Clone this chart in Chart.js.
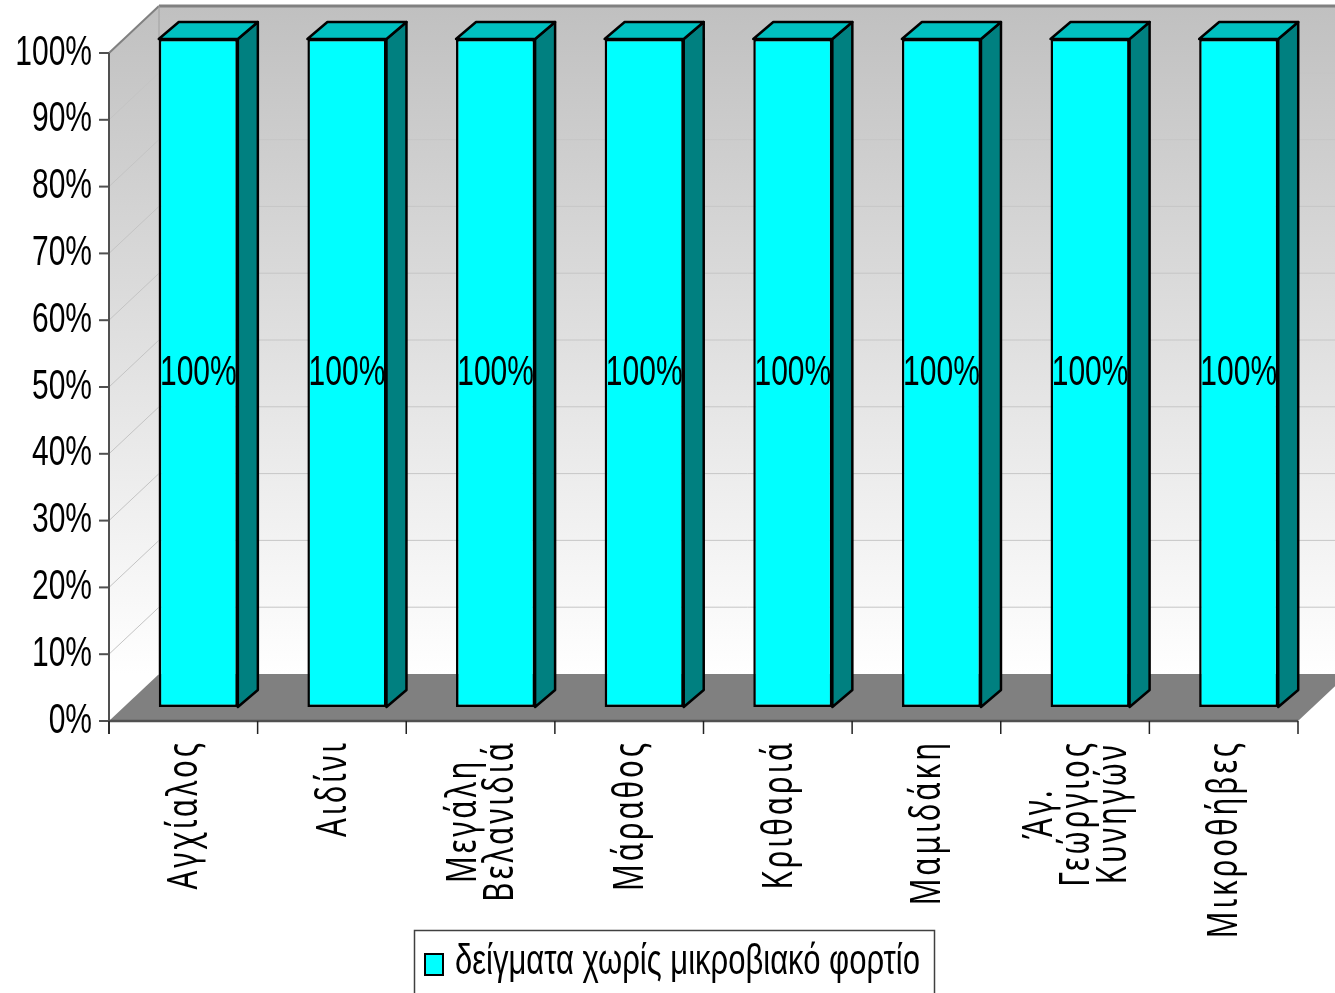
<!DOCTYPE html>
<html>
<head>
<meta charset="utf-8">
<script src="https://cdn.jsdelivr.net/npm/chart.js@4.4.1/dist/chart.umd.min.js"></script>
<style>
  html, body { margin: 0; padding: 0; background: #fff; }
  #wrap { width: 1335px; height: 993px; position: relative; }
</style>
</head>
<body>
<div id="wrap"><canvas id="chart"></canvas></div>
<script>
const categories = [
  ['Αγχίαλος'],
  ['Αιδίνι'],
  ['Μεγάλη', 'Βελανιδιά'],
  ['Μάραθος'],
  ['Κριθαριά'],
  ['Μαμιδάκη'],
  ['Άγ.', 'Γεώργιος', 'Κυνηγών'],
  ['Μικροθήβες'],
];
const seriesLabel = 'δείγματα χωρίς μικροβιακό φορτίο';
const seriesValues = [100, 100, 100, 100, 100, 100, 100, 100];
const yTickValues = [0, 10, 20, 30, 40, 50, 60, 70, 80, 90, 100];

// 3d look: whole depth of the box, where the bars sit in it and how deep they are
const DEPTH = { dx: 50, dy: -47 };
const BAR_SHIFT = { dx: 15, dy: -14 };
const BAR_DEPTH = { dx: 20, dy: -17 };

const numFont = '30px "Liberation Sans", Arial, sans-serif';
const legendFont = '31px "Liberation Sans", Arial, sans-serif';
const labelFont = '41px "Noto Sans", sans-serif';

function tallText(ctx, text, x, y, align, sy) {
  ctx.save();
  ctx.translate(x, y);
  ctx.scale(1, sy);
  ctx.textAlign = align;
  ctx.textBaseline = 'middle';
  ctx.fillText(text, 0, 0);
  ctx.restore();
}

function poly(ctx, pts, fill, stroke, lw) {
  ctx.beginPath();
  ctx.moveTo(pts[0][0], pts[0][1]);
  for (let i = 1; i < pts.length; i++) ctx.lineTo(pts[i][0], pts[i][1]);
  ctx.closePath();
  if (fill) {
    ctx.fillStyle = fill;
    ctx.fill();
  }
  if (stroke) {
    ctx.strokeStyle = stroke;
    ctx.lineWidth = lw || 1;
    ctx.stroke();
  }
}

function line(ctx, x1, y1, x2, y2, color, lw) {
  ctx.beginPath();
  ctx.moveTo(x1, y1);
  ctx.lineTo(x2, y2);
  ctx.strokeStyle = color;
  ctx.lineWidth = lw;
  ctx.stroke();
}

const scenePlugin = {
  id: 'scene',
  beforeDatasetsDraw(chart) {
    const { ctx, chartArea: area, scales } = chart;
    const y = scales.y;
    const x = scales.x;
    const w = chart.width;
    const top = y.getPixelForValue(yTickValues[yTickValues.length - 1]);
    const bottom = y.getPixelForValue(0);
    const bx = area.left + DEPTH.dx;
    const by = bottom + DEPTH.dy;
    const ty = top + DEPTH.dy;

    ctx.save();
    const grad = ctx.createLinearGradient(0, ty, 0, by);
    grad.addColorStop(0, '#c0c0c0');
    grad.addColorStop(1, '#ffffff');

    // side wall and back wall
    poly(ctx, [[area.left, top], [bx, ty], [bx, by], [area.left, bottom]], grad);
    poly(ctx, [[bx, ty], [w + 60, ty], [w + 60, by], [bx, by]], grad);

    yTickValues.forEach((v) => {
      if (v === 0) return;
      const py = y.getPixelForValue(v);
      line(ctx, area.left, py, bx, py + DEPTH.dy, '#c4c4c4', 1);
      line(ctx, bx, py + DEPTH.dy, w + 60, py + DEPTH.dy, '#c6c6c6', 1);
    });

    // floor
    poly(ctx, [[area.left, bottom], [bx, by], [area.right + DEPTH.dx, by], [area.right, bottom]], '#808080');

    // wall edges
    line(ctx, area.left, top, bx, ty, '#808080', 2);
    line(ctx, bx, ty, w + 60, ty, '#808080', 3);
    line(ctx, bx, ty, bx, by, '#a0a0a0', 1);

    // axes
    line(ctx, area.left, bottom, area.right, bottom, '#505050', 2.5);
    line(ctx, area.left, top, area.left, bottom + 13, '#505050', 2);
    yTickValues.forEach((v) => {
      const py = y.getPixelForValue(v);
      line(ctx, area.left - 10, py, area.left, py, '#505050', 2);
    });
    const half = (x.getPixelForValue(1) - x.getPixelForValue(0)) / 2;
    for (let i = 0; i <= categories.length; i++) {
      const px = i < categories.length ? x.getPixelForValue(i) - half : x.getPixelForValue(i - 1) + half;
      line(ctx, px, bottom, px, bottom + 13, '#222', 1.5);
    }
    ctx.restore();

    // front faces are drawn by chart.js, moved back into the box
    ctx.save();
    ctx.translate(BAR_SHIFT.dx, BAR_SHIFT.dy);
  },
  afterDatasetsDraw(chart) {
    const { ctx } = chart;
    ctx.restore();

    const meta = chart.getDatasetMeta(0);
    ctx.save();
    ctx.lineJoin = 'round';
    meta.data.forEach((bar, i) => {
      const l = bar.x - bar.width / 2 + BAR_SHIFT.dx;
      const r = bar.x + bar.width / 2 + BAR_SHIFT.dx;
      const t = bar.y + BAR_SHIFT.dy;
      const b = bar.base + BAR_SHIFT.dy;
      const dx = BAR_DEPTH.dx;
      const dy = BAR_DEPTH.dy;
      poly(ctx, [[r, t], [r + dx, t + dy], [r + dx, b + dy], [r, b]], '#008080', '#000', 2.5);
      poly(ctx, [[l, t], [l + dx, t + dy], [r + dx, t + dy], [r, t]], '#00c0c0', '#000', 2.5);

      ctx.fillStyle = '#000';
      ctx.font = numFont;
      tallText(ctx, seriesValues[i] + '%', (l + r) / 2, (t + b) / 2, 'center', 1.4);
    });
    ctx.restore();
  },
  afterDraw(chart) {
    const { ctx, chartArea: area, scales } = chart;
    const y = scales.y;
    const x = scales.x;
    ctx.save();
    ctx.fillStyle = '#000';

    // y tick labels
    ctx.font = numFont;
    yTickValues.forEach((v) => {
      tallText(ctx, v + '%', area.left - 17, y.getPixelForValue(v), 'right', 1.4);
    });

    // category labels, rotated, block ends just under the axis
    const endY = y.getPixelForValue(0) + 19;
    const squeeze = 0.72;
    const lineGap = 37;
    ctx.font = labelFont;
    ctx.letterSpacing = '4px';
    categories.forEach((lines, i) => {
      const cx = x.getPixelForValue(i) + 2;
      const widths = lines.map((s) => ctx.measureText(s).width * squeeze);
      const maxW = Math.max(...widths);
      ctx.save();
      ctx.translate(cx, endY);
      ctx.rotate(-Math.PI / 2);
      ctx.scale(squeeze, 1);
      ctx.textAlign = 'center';
      ctx.textBaseline = 'middle';
      lines.forEach((s, j) => {
        const off = (j - (lines.length - 1) / 2) * lineGap;
        ctx.fillText(s, -maxW / 2 / squeeze, off);
      });
      ctx.restore();
    });
    ctx.letterSpacing = '0px';

    // legend
    const ds = chart.data.datasets[0];
    ctx.lineWidth = 1.5;
    ctx.strokeStyle = '#404040';
    ctx.strokeRect(414.5, 930.5, 520, 80);
    ctx.fillStyle = ds.backgroundColor;
    ctx.fillRect(425, 954, 18, 21);
    ctx.lineWidth = 2;
    ctx.strokeStyle = '#000';
    ctx.strokeRect(425, 954, 18, 21);
    ctx.fillStyle = '#000';
    ctx.font = legendFont;
    tallText(ctx, ds.label, 455, 962, 'left', 1.35);
    ctx.restore();
  },
};

new Chart(document.getElementById('chart'), {
  type: 'bar',
  data: {
    labels: categories,
    datasets: [
      {
        label: seriesLabel,
        data: seriesValues,
        backgroundColor: '#00ffff',
        borderColor: '#000',
        borderWidth: 2.5,
        borderSkipped: false,
        barPercentage: 0.532,
        categoryPercentage: 1,
        clip: false,
      },
    ],
  },
  options: {
    responsive: true,
    maintainAspectRatio: false,
    animation: false,
    layout: {
      padding: { left: 109, right: 37, top: 53, bottom: 272 },
    },
    plugins: {
      legend: { display: false },
      tooltip: { enabled: false },
    },
    scales: {
      x: { display: false, offset: true },
      y: { display: false, min: 0, max: 100, ticks: { stepSize: 10 } },
    },
  },
  plugins: [scenePlugin],
});
</script>
</body>
</html>
